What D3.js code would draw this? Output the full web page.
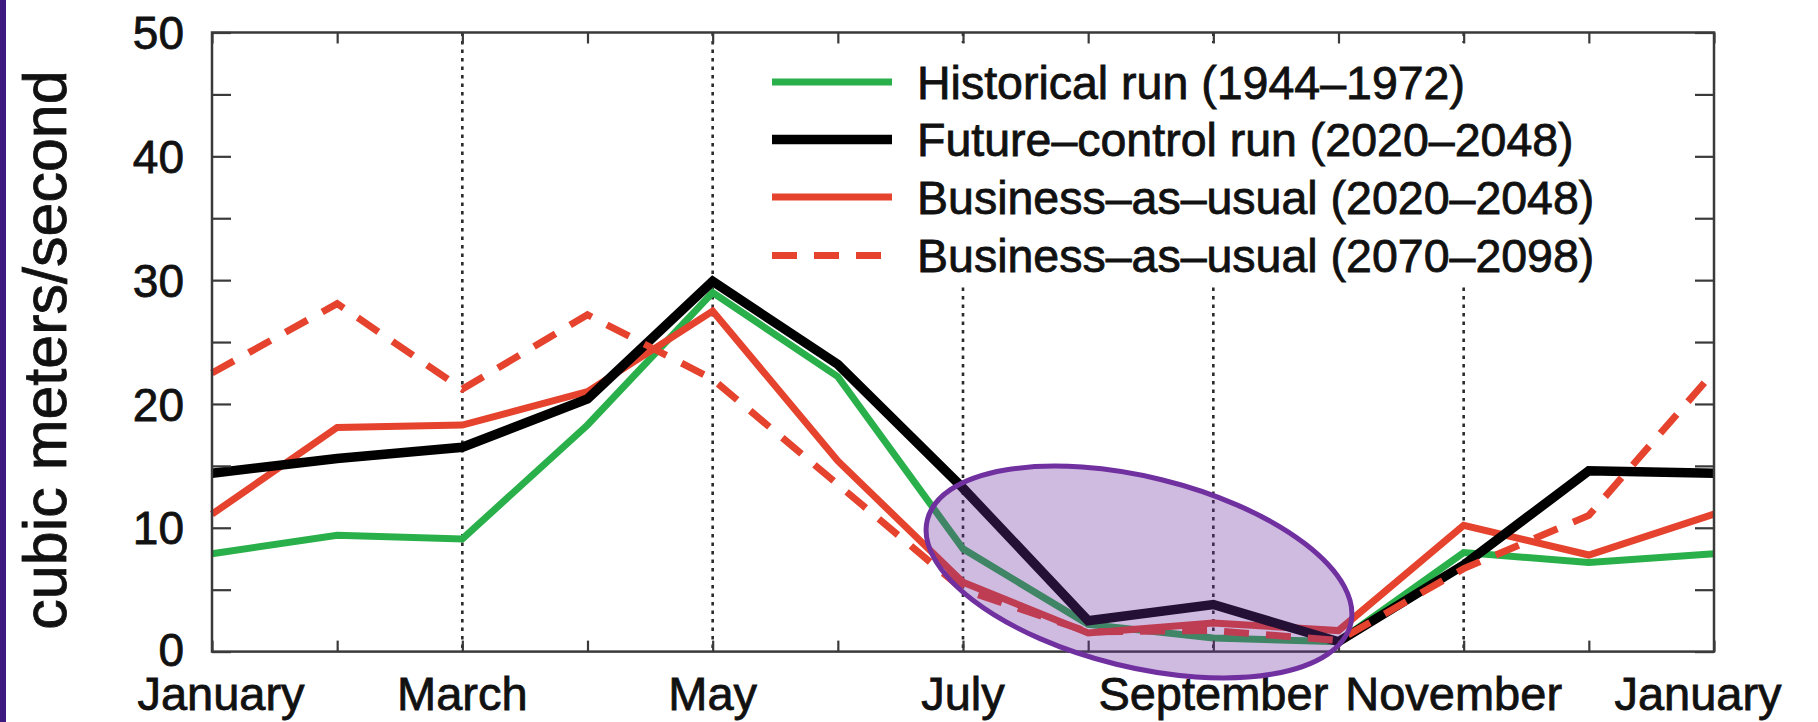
<!DOCTYPE html>
<html>
<head>
<meta charset="utf-8">
<script src="https://cdn.jsdelivr.net/npm/d3@7"></script>
<style>
  html, body { margin: 0; padding: 0; background: #fff; }
  svg { display: block; }
  text { font-family: "Liberation Sans", Arial, Helvetica, sans-serif; fill: #111;
         stroke: #111; stroke-width: 0.8px; }
</style>
</head>
<body>
<svg id="chart" width="1818" height="722"></svg>
<script>
// Monthly mean streamflow, January through the following January
const months = ["January", "February", "March", "April", "May", "June", "July",
                "August", "September", "October", "November", "December", "January"];
const monthLabelIndex = [0, 2, 4, 6, 8, 10, 12];
const yTicks = [0, 10, 20, 30, 40, 50];
const yMinorTicks = [0, 5, 10, 15, 20, 25, 30, 35, 40, 45, 50];

const historical    = [7.9, 9.4, 9.1, 18.3, 29.0, 22.2, 8.3, 2.2, 1.1, 0.8, 8.0, 7.2, 7.9];
const futureControl = [14.4, 15.6, 16.5, 20.4, 29.9, 23.2, 13.2, 2.5, 3.8, 0.8, 7.0, 14.6, 14.4];
const bau2020       = [11.1, 18.1, 18.3, 21.0, 27.5, 15.4, 5.6, 1.5, 2.3, 1.7, 10.2, 7.8, 11.1];
const bau2070       = [22.5, 28.1, 21.2, 27.2, 22.0, 13.5, 5.0, 1.6, 1.7, 0.9, 6.7, 11.0, 22.6];

const seriesNames = ["Historical run (1944\u20131972)",
                     "Future\u2013control run (2020\u20132048)",
                     "Business\u2013as\u2013usual (2020\u20132048)",
                     "Business\u2013as\u2013usual (2070\u20132098)"];

const series = [
  { name: seriesNames[0], values: historical,    color: "#29b04a", width: 7,   dash: null },
  { name: seriesNames[1], values: futureControl, color: "#000000", width: 9.5, dash: null },
  { name: seriesNames[2], values: bau2020,       color: "#e5432e", width: 7,   dash: null },
  { name: seriesNames[3], values: bau2070,       color: "#e5432e", width: 7,   dash: "25,17" }
];
// drawing order (last on top)
const drawOrder = [0, 2, 1, 3];

const svg = d3.select("#chart");
const plot = { left: 212, right: 1714, top: 32.5, bottom: 651.6 };

const x = d3.scaleLinear().domain([0, months.length - 1]).range([plot.left, plot.right]);
const y = d3.scaleLinear().domain([0, 50]).range([plot.bottom, plot.top]);

// slide-edge strip
svg.append("rect").attr("x", 0).attr("y", 0).attr("width", 6).attr("height", 722)
  .attr("fill", "#3d1a80");

// dotted vertical grid at labelled interior months
svg.append("g").selectAll("line")
  .data(monthLabelIndex.filter(i => i > 0 && i < months.length - 1))
  .join("line")
  .attr("x1", d => x(d)).attr("x2", d => x(d))
  .attr("y1", plot.top).attr("y2", plot.bottom)
  .attr("stroke", "#2a2a2a").attr("stroke-width", 2.6)
  .attr("stroke-dasharray", "3.5,5");

// legend background
svg.append("rect").attr("x", 742).attr("y", 43).attr("width", 880).attr("height", 240)
  .attr("fill", "#fff");

// series lines
const line = d3.line().x((d, i) => x(i)).y(d => y(d));
const lines = svg.append("g");
drawOrder.forEach(k => {
  const s = series[k];
  lines.append("path")
    .datum(s.values)
    .attr("d", line)
    .attr("fill", "none")
    .attr("stroke", s.color)
    .attr("stroke-width", s.width)
    .attr("stroke-linejoin", "miter")
    .attr("stroke-dasharray", s.dash);
});

// frame
svg.append("rect")
  .attr("x", plot.left).attr("y", plot.top)
  .attr("width", plot.right - plot.left).attr("height", plot.bottom - plot.top)
  .attr("fill", "none").attr("stroke", "#3a3a3a").attr("stroke-width", 2.5);

// inward ticks via d3 axes
const xb = d3.axisBottom(x).tickValues(d3.range(months.length)).tickSize(-11).tickFormat("");
const xt = d3.axisTop(x).tickValues(d3.range(months.length)).tickSize(-11).tickFormat("");
const yl = d3.axisLeft(y).tickValues(yMinorTicks).tickSize(-19).tickFormat("");
const yr = d3.axisRight(y).tickValues(yMinorTicks).tickSize(-19).tickFormat("");
[[xb, `translate(0,${plot.bottom})`], [xt, `translate(0,${plot.top})`],
 [yl, `translate(${plot.left},0)`], [yr, `translate(${plot.right},0)`]].forEach(([ax, t]) => {
  const g = svg.append("g").attr("transform", t).call(ax);
  g.select(".domain").remove();
  g.selectAll("line").attr("stroke", "#3a3a3a").attr("stroke-width", 2.2);
});

// y tick labels
svg.append("g").selectAll("text")
  .data(yTicks)
  .join("text")
  .attr("x", 184)
  .attr("y", d => y(d) - (d === 0 ? 2 : 0))
  .attr("dy", "0.36em")
  .attr("text-anchor", "end")
  .attr("font-size", 46)
  .text(d => d);

// month labels (end labels nudged inward to fit the frame)
const labelNudge = { 0: 9, 10: -10, 12: -16 };
svg.append("g").selectAll("text")
  .data(monthLabelIndex)
  .join("text")
  .attr("x", d => x(d) + (labelNudge[d] || 0))
  .attr("y", 710)
  .attr("text-anchor", "middle")
  .attr("font-size", 47)
  .text(d => months[d]);

// y axis title
svg.append("text")
  .attr("transform", "translate(66,350) rotate(-90)")
  .attr("text-anchor", "middle")
  .attr("font-size", 61)
  .text("cubic meters/second");

// legend
const legendRowY = [82, 139.5, 197, 255.5];
const legend = svg.append("g");
series.forEach((s, i) => {
  legend.append("line")
    .attr("x1", 772).attr("x2", 892)
    .attr("y1", legendRowY[i]).attr("y2", legendRowY[i])
    .attr("stroke", s.color).attr("stroke-width", s.width)
    .attr("stroke-dasharray", s.dash);
  legend.append("text")
    .attr("x", 917).attr("y", legendRowY[i] + 16.5)
    .attr("font-size", 46.5)
    .text(s.name);
});

// highlight over the late-summer low-flow months
svg.append("ellipse")
  .attr("cx", 1139).attr("cy", 572)
  .attr("rx", 218).attr("ry", 95)
  .attr("transform", "rotate(13.8,1139,572)")
  .attr("fill", "rgba(112,48,160,0.33)")
  .attr("stroke", "#7030a0")
  .attr("stroke-width", 5);
</script>
</body>
</html>
